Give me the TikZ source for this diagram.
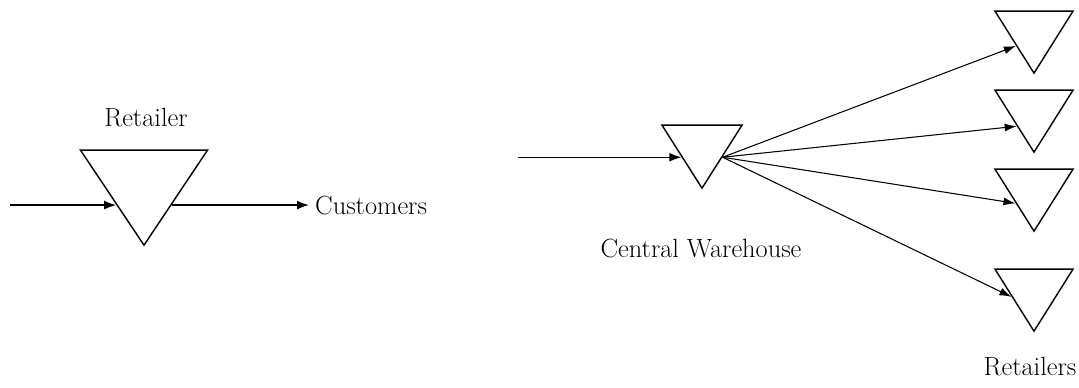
\documentclass[tikz,border=0pt]{standalone}
\usetikzlibrary{shapes.geometric,arrows.meta,calc}
\begin{document}
\begin{tikzpicture}[x=0.02cm,y=-0.02cm,
  tri/.style={draw,line width=0.8pt,isosceles triangle,isosceles triangle stretches,
    shape border rotate=270,inner sep=0pt,anchor=apex},
  arr/.style={-{Latex[length=2.4mm,width=1.8mm]},line width=0.8pt},
  lbl/.style={font=\fontsize{15}{17}\selectfont}]
  \useasboundingbox (0,0) rectangle (1079,387);
  % single retailer
  \node[tri,minimum width=2.54cm,minimum height=1.9cm] (ret) at (144,247) {};
  \node[lbl] (retlbl) at (146,118) {Retailer};
  \coordinate (retin) at ($(ret.apex)!0.43!(ret.right corner)$);
  \coordinate (retout) at ($(ret.apex)!0.43!(ret.left corner)$);
  \coordinate (in1) at (retin -| 10,0);
  \node[lbl,anchor=west] (cust) at (retout -| 309,0) {Customers};
  \draw[arr] (in1) -- (retin);
  \draw[arr] (retout) -- (cust);
  % central warehouse
  \node[tri,minimum width=1.6cm,minimum height=1.26cm] (cw) at (702,190) {};
  \node[lbl] (cwlbl) at (701,248) {Central Warehouse};
  \coordinate (in2) at (cw.right side -| 518,0);
  \draw[arr] (in2) -- (cw.right side);
  % retailers
  \foreach \n/\y in {1/75,2/154,3/233,4/333}
    \node[tri,minimum width=1.56cm,minimum height=1.24cm] (r\n) at (1034,\y) {};
  \node[lbl] (rlbl) at (1030,367) {Retailers};
  \foreach \n/\f in {1/0.45,2/0.43,3/0.46,4/0.56}
    \draw[-{Latex[length=2.4mm,width=1.6mm]},line width=0.6pt]
      (cw.left side) -- ($(r\n.apex)!\f!(r\n.right corner)$);
\end{tikzpicture}
\end{document}
